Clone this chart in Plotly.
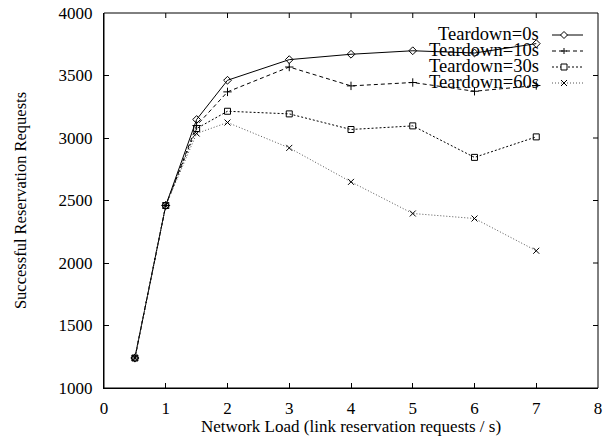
import plotly.graph_objects as go

# ---- data ----
network_load = [0.5, 1, 1.5, 2, 3, 4, 5, 6, 7]
teardown_0s = [1240, 2460, 3148, 3462, 3627, 3670, 3698, 3680, 3755]
teardown_10s = [1240, 2460, 3100, 3369, 3568, 3417, 3444, 3374, 3420]
teardown_30s = [1240, 2460, 3076, 3214, 3193, 3068, 3097, 2845, 3009]
teardown_60s = [1240, 2460, 3036, 3124, 2921, 2649, 2396, 2356, 2098]
series_names = ["Teardown=0s", "Teardown=10s", "Teardown=30s", "Teardown=60s"]
x_ticks = [0, 1, 2, 3, 4, 5, 6, 7, 8]
y_ticks = [1000, 1500, 2000, 2500, 3000, 3500, 4000]
x_range = [0, 8]
y_range = [1000, 4000]

FONT = "Liberation Serif"
styles = [
    dict(color="black", dash="solid", symbol="diamond-open", size=6,
         path="M 0,-3.5 L 3.5,0 L 0,3.5 L -3.5,0 Z"),
    dict(color="black", dash="4px,3px", symbol="cross-thin-open", size=6,
         path="M -3,0 L 3,0 M 0,-3 L 0,3"),
    dict(color="black", dash="2px,2px", symbol="square-open", size=6,
         path="M -3,-3 L 3,-3 L 3,3 L -3,3 Z"),
    dict(color="#555555", dash="1px,2px", symbol="x-thin-open", size=6,
         path="M -3,-3 L 3,3 M 3,-3 L -3,3"),
]
series = [teardown_0s, teardown_10s, teardown_30s, teardown_60s]

fig = go.Figure()
for name, ys, st in zip(series_names, series, styles):
    fig.add_trace(go.Scatter(
        x=network_load, y=ys, mode="lines+markers", name=name,
        line=dict(color=st["color"], dash=st["dash"], width=1),
        marker=dict(symbol=st["symbol"], size=st["size"],
                    color="black", line=dict(color="black", width=1)),
        showlegend=False,
    ))

# ---- layout geometry ----
W, H = 608, 436
PLOT_L, PLOT_R, PLOT_T, PLOT_B = 104, 598, 13, 388
TICK_LEN = 5


def px_x(p):
    return (p - PLOT_L) / (PLOT_R - PLOT_L)


def px_y(p):
    return (PLOT_B - p) / (PLOT_B - PLOT_T)


# ---- manual gnuplot-style legend (text left of sample) ----
leg_rows = [35, 51, 67, 83]
leg_text_right = 541
leg_line_x0, leg_line_x1, leg_marker_x = 552, 583, 564
for name, row, st in zip(series_names, leg_rows, styles):
    fig.add_shape(type="line", xref="paper", yref="paper",
                  x0=px_x(leg_line_x0), x1=px_x(leg_line_x1),
                  y0=px_y(row), y1=px_y(row),
                  line=dict(color=st["color"], dash=st["dash"], width=1))
    fig.add_shape(type="path", xref="paper", yref="paper",
                  xsizemode="pixel", ysizemode="pixel",
                  xanchor=px_x(leg_marker_x), yanchor=px_y(row),
                  path=st["path"], fillcolor="white",
                  line=dict(color="black", width=1))
    fig.add_annotation(x=px_x(leg_text_right), y=px_y(row - 1), xref="paper", yref="paper",
                       text=name, showarrow=False, xanchor="right", yanchor="middle",
                       font=dict(family=FONT, size=18.5, color="black"))

# plot frame
fig.add_shape(type="rect", xref="paper", yref="paper", x0=0, x1=1, y0=0, y1=1,
              line=dict(color="black", width=1), fillcolor="rgba(0,0,0,0)", layer="above")

# mirrored inward ticks on top and right sides
tick_frac_y = TICK_LEN / (PLOT_B - PLOT_T)
tick_frac_x = TICK_LEN / (PLOT_R - PLOT_L)
for xv in x_ticks[1:-1]:
    fig.add_shape(type="line", xref="x", yref="paper", x0=xv, x1=xv,
                  y0=1, y1=1 - tick_frac_y, line=dict(color="black", width=1))
for yv in y_ticks[1:-1]:
    fig.add_shape(type="line", xref="paper", yref="y", x0=1, x1=1 - tick_frac_x,
                  y0=yv, y1=yv, line=dict(color="black", width=1))

axis_common = dict(
    showline=True, linecolor="black", linewidth=1,
    ticks="inside", ticklen=TICK_LEN, tickcolor="black", tickwidth=1,
    showgrid=False, zeroline=False, automargin=False,
    tickfont=dict(family=FONT, size=17, color="black"),
)

fig.update_layout(
    width=W, height=H,
    margin=dict(l=PLOT_L, r=W - PLOT_R, t=PLOT_T, b=H - PLOT_B, autoexpand=False),
    paper_bgcolor="white", plot_bgcolor="white",
    xaxis=dict(range=x_range, tickvals=x_ticks, ticklabelstandoff=5,
               title=dict(text="Network Load (link reservation requests / s)",
                          font=dict(family=FONT, size=17, color="black"), standoff=0),
               **axis_common),
    yaxis=dict(range=y_range, tickvals=y_ticks, ticklabelstandoff=7,
               title=dict(text="Successful Reservation Requests",
                          font=dict(family=FONT, size=16.5, color="black"), standoff=27),
               **axis_common),
    showlegend=False,
)

fig.write_html("out.html", config={"displayModeBar": False},
               post_script="document.body.style.margin='0';")
